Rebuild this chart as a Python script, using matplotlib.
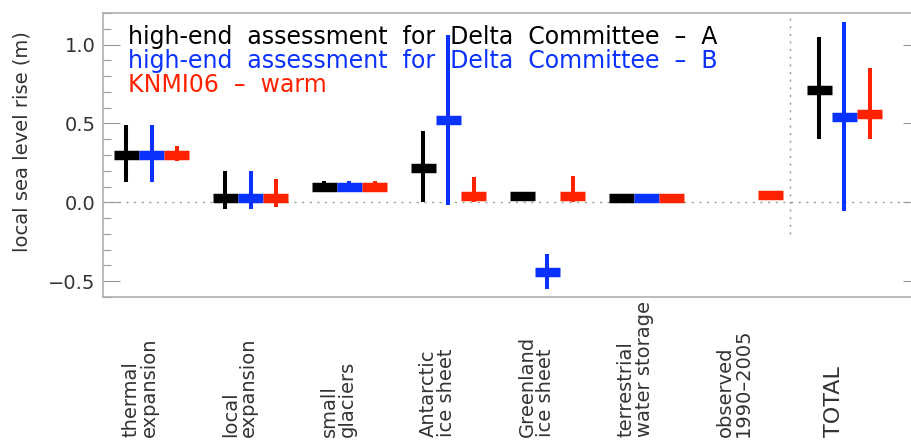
import numpy as np
import matplotlib
matplotlib.use('Agg')
import matplotlib.pyplot as plt
import matplotlib.transforms as mtransforms
from matplotlib.ticker import MultipleLocator, FuncFormatter

# categories along x
categories = ['thermal\nexpansion', 'local\nexpansion', 'small\nglaciers',
              'Antarctic\nice sheet', 'Greenland\nice sheet',
              'terrestrial\nwater storage', 'observed\n1990\u20132005', 'TOTAL']

# high-end assessment for Delta Committee - A
a_mid = [0.30, 0.03, 0.10, 0.22, 0.04, 0.025, np.nan, 0.71]
a_low = [0.13, -0.045, 0.07, 0.0, np.nan, np.nan, np.nan, 0.40]
a_high = [0.49, 0.20, 0.135, 0.45, np.nan, np.nan, np.nan, 1.05]

# high-end assessment for Delta Committee - B
b_mid = [0.30, 0.03, 0.10, 0.52, -0.44, 0.025, np.nan, 0.54]
b_low = [0.13, -0.045, 0.07, -0.02, -0.55, np.nan, np.nan, -0.055]
b_high = [0.49, 0.20, 0.135, 1.06, -0.33, np.nan, np.nan, 1.145]

# KNMI06 - warm
k_mid = [0.30, 0.03, 0.10, 0.04, 0.04, 0.025, 0.045, 0.56]
k_low = [0.26, -0.03, 0.065, 0.0, 0.0, np.nan, np.nan, 0.40]
k_high = [0.355, 0.145, 0.135, 0.16, 0.165, np.nan, np.nan, 0.85]

legend_labels = ['high-end  assessment  for  Delta  Committee  \u2013  A',
                 'high-end  assessment  for  Delta  Committee  \u2013  B',
                 'KNMI06  \u2013  warm']

colors = ['black', '#0a32ff', '#ff2200']
offsets = [-0.255, 0.0, 0.255]
half = 0.126

fig = plt.figure(figsize=(9.11, 4.41), dpi=100)
ax = fig.add_axes([103 / 911, 144 / 441, 817 / 911, 284 / 441])

x = np.arange(len(categories))
series = [(a_mid, a_low, a_high), (b_mid, b_low, b_high), (k_mid, k_low, k_high)]

# zero line and separator before TOTAL
ax.axhline(0, color='#999999', lw=1, ls=(0, (1.5, 4)), zorder=1)
ax.vlines(6.45, -0.2, 1.2, color='#999999', lw=1, ls=(0, (1.5, 4)), zorder=1)

for (mid, low, high), c, off in zip(series, colors, offsets):
    xs = x + off
    ax.vlines(xs, low, high, color=c, lw=2.9, capstyle='butt', zorder=3)
    ax.hlines(mid, xs - half, xs + half, color=c, lw=6.8, capstyle='butt', zorder=3)

ax.set_xlim(-0.49, 7.763)
ax.set_ylim(-0.6, 1.2)
ax.set_xticks([])
ax.yaxis.set_major_locator(MultipleLocator(0.5))
ax.yaxis.set_minor_locator(MultipleLocator(0.1))
ax.yaxis.set_major_formatter(FuncFormatter(lambda v, p: ('%.1f' % v).replace('-', '\u2212')))
ax.tick_params(axis='y', which='both', direction='in', left=True, right=True,
               color='#999999', width=0.8, labelsize=14, pad=5.5, labelcolor='#333333')
ax.tick_params(axis='y', which='major', length=12.2)
ax.tick_params(axis='y', which='minor', length=5.8)
for s in ax.spines.values():
    s.set_color('#aaaaaa')
    s.set_linewidth(1.1)

ax.set_ylabel('local sea level rise (m)', fontsize=14, color='#333333')
ax.yaxis.set_label_coords(-0.088, 0.549)

# legend as coloured text lines
for i, (lab, c) in enumerate(zip(legend_labels, colors)):
    ax.text(0.0306, 0.915 - i * 0.0845, lab, color=c, fontsize=17,
            transform=ax.transAxes, va='center', ha='left')

# rotated category labels below the axes
trans = mtransforms.blended_transform_factory(ax.transData, fig.transFigure)
for i, cat in enumerate(categories):
    off = -0.30 if '\n' in cat else -0.21
    ax.text(i + off, 4 / 441, cat, rotation=90, ha='left', va='bottom',
            multialignment='left', fontsize=14 if cat != 'TOTAL' else 16,
            linespacing=0.95, color='#333333', transform=trans)

fig.savefig('out.png', dpi=100)
